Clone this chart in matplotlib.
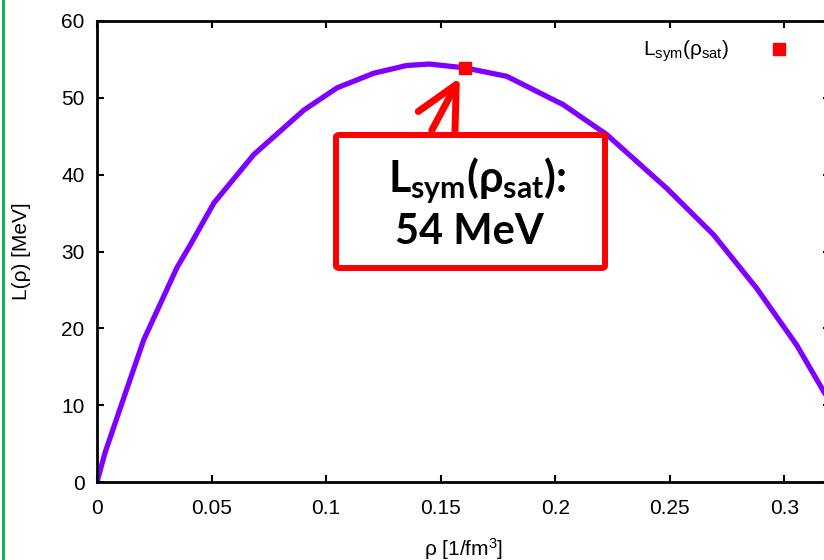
import matplotlib
matplotlib.use("Agg")
import matplotlib.pyplot as plt
from matplotlib.patches import FancyBboxPatch
from matplotlib.lines import Line2D

# L(rho) curve
rho = [0.0, 0.0035, 0.0114, 0.0204, 0.0349, 0.0406, 0.051, 0.0684, 0.0903,
       0.1048, 0.1208, 0.135, 0.145, 0.1607, 0.1789, 0.2036, 0.2226, 0.2488,
       0.2691, 0.288, 0.3055, 0.3172, 0.322]
L = [0.0, 3.8, 10.7, 18.5, 27.9, 30.8, 36.3, 42.6, 48.4,
     51.3, 53.2, 54.2, 54.4, 53.9, 52.8, 49.1, 45.2, 38.2,
     32.2, 25.2, 17.8, 11.8, 9.4]

rho_sat = 0.1607
L_sat = 53.9

xticks = [0, 0.05, 0.1, 0.15, 0.2, 0.25, 0.3]
xticklabels = ["0", "0.05", "0.1", "0.15", "0.2", "0.25", "0.3"]
yticks = [0, 10, 20, 30, 40, 50, 60]

plt.rcParams['font.family'] = ['Liberation Sans', 'DejaVu Sans']
plt.rcParams['mathtext.default'] = 'regular'

fig = plt.figure(figsize=(8.24, 5.6), dpi=100)
# axes run past the right edge of the picture (cropped plot)
ax = fig.add_axes([97 / 824, 78 / 560, 733 / 824, 461 / 560])

ax.plot(rho, L, color='#7f00ff', linewidth=3.8, solid_capstyle='round',
        solid_joinstyle='round', zorder=2)
ax.plot([rho_sat], [L_sat], 's', color='#ff0000', markersize=9, zorder=4,
        label=r'L$_{sym}$(ρ$_{sat}$)')

ax.set_xlim(0, 0.32)
ax.set_ylim(0, 60)
ax.set_xticks(xticks)
ax.set_xticklabels(xticklabels)
ax.set_yticks(yticks)
ax.tick_params(direction='in', length=5, width=1.5, top=True, right=True,
               labelsize=15, pad=9)
ax.tick_params(axis='x', pad=12)
for s in ax.spines.values():
    s.set_linewidth(2)

ax.set_xlabel('ρ [1/fm$^3$]', fontsize=15, labelpad=13)
ax.set_ylabel('L(ρ) [MeV]', fontsize=15, labelpad=22)

leg = ax.legend(loc='upper right', bbox_to_anchor=(810 / 824, 1 - 20 / 560),
                bbox_transform=fig.transFigure, frameon=False, markerfirst=False,
                fontsize=15, handlelength=1.2, handletextpad=1.8, markerscale=0.9)

# callout box with arrow to the saturation point
box = FancyBboxPatch((336 / 824, 1 - 268 / 560), 269 / 824, 133 / 560,
                     boxstyle='round,pad=0,rounding_size=0.004',
                     transform=fig.transFigure, facecolor='white',
                     edgecolor='#ff0000', linewidth=4.3, zorder=5)
fig.add_artist(box)
fig.text(477 / 824, 1 - 180 / 560, r'L$_{sym}$(ρ$_{sat}$):', ha='center', va='center',
         fontsize=31, fontweight='bold', family=['Lato', 'DejaVu Sans'], zorder=6)
fig.text(469 / 824, 1 - 232 / 560, '54 MeV', ha='center', va='center',
         fontsize=30, fontweight='bold', family=['Lato', 'DejaVu Sans'], zorder=6)

ax.annotate('', xy=(rho_sat, L_sat), xytext=(-24, -45), textcoords='offset points',
            arrowprops=dict(arrowstyle='->,head_length=1.5,head_width=0.75',
                            color='#ff0000', linewidth=5, mutation_scale=20,
                            shrinkA=0, shrinkB=8, capstyle='round',
                            joinstyle='round'), zorder=5)

# green slide border on the left
fig.add_artist(Line2D([2.5 / 824, 2.5 / 824], [0, 1], transform=fig.transFigure,
                      color='#00b050', linewidth=2))

fig.savefig('out.png', dpi=100)
